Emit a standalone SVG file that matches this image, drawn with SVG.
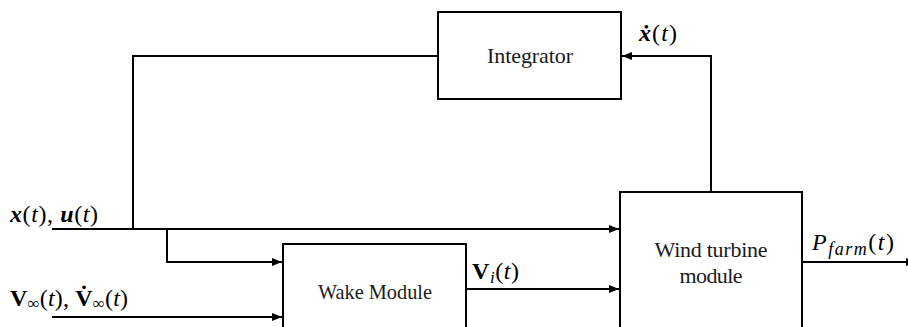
<svg xmlns="http://www.w3.org/2000/svg" width="908" height="327" viewBox="0 0 908 327">
  <style>
    .box { fill: #ffffff; stroke: #000000; stroke-width: 2; }
    .wire { fill: none; stroke: #000000; stroke-width: 2; }
    .lbl { font-family: "Liberation Serif", "DejaVu Serif", serif; font-size: 22px; fill: #1a1a1a; }
    .math { font-family: "Liberation Serif", "DejaVu Serif", serif; font-size: 24px; fill: #000000; }
    .bi { font-weight: bold; font-style: italic; }
    .b { font-weight: bold; }
    .i { font-style: italic; }
  </style>
  <defs>
    <marker id="arrow" markerWidth="10" markerHeight="8" refX="10" refY="4" orient="auto" markerUnits="userSpaceOnUse">
      <path d="M0,0 L10,4 L0,8 Z" fill="#000000"/>
    </marker>
  </defs>

  <rect width="908" height="327" fill="#ffffff"/>

  <!-- connectors -->
  <g id="connectors">
    <!-- feedback: integrator output back to the state input line -->
    <path class="wire" d="M438,56 H133 V229"/>
    <!-- x(t), u(t) to wind turbine module -->
    <path class="wire" d="M52,229 H619" marker-end="url(#arrow)"/>
    <!-- branch to wake module -->
    <path class="wire" d="M167,229 V262 H282" marker-end="url(#arrow)"/>
    <!-- free stream input to wake module -->
    <path class="wire" d="M52,317 H282" marker-end="url(#arrow)"/>
    <!-- wake module to wind turbine module -->
    <path class="wire" d="M466,289 H619" marker-end="url(#arrow)"/>
    <!-- state derivative to integrator -->
    <path class="wire" d="M711,192 V56 H622" marker-end="url(#arrow)"/>
    <!-- farm power output -->
    <path class="wire" d="M802,262 H916" marker-end="url(#arrow)"/>
  </g>

  <!-- nodes -->
  <g id="integrator">
    <rect class="box" x="438" y="12" width="183" height="87"/>
    <text class="lbl" x="530" y="63" text-anchor="middle" textLength="86">Integrator</text>
  </g>

  <g id="wake-module">
    <rect class="box" x="283" y="244" width="183" height="100"/>
    <text class="lbl" x="375" y="299" text-anchor="middle" textLength="114" lengthAdjust="spacingAndGlyphs">Wake Module</text>
  </g>

  <g id="wind-turbine-module">
    <rect class="box" x="620" y="192" width="182" height="160"/>
    <text class="lbl" x="711" y="257" text-anchor="middle" textLength="113">Wind turbine</text>
    <text class="lbl" x="711" y="283" text-anchor="middle" textLength="63">module</text>
  </g>

  <!-- signal labels -->
  <g id="labels">
    <text class="math" x="10" y="222" textLength="88"><tspan class="bi">x</tspan>(<tspan class="i">t</tspan>), <tspan class="bi">u</tspan>(<tspan class="i">t</tspan>)</text>
    <text class="math" x="10" y="306" textLength="118"><tspan class="b">V</tspan><tspan font-size="17" dy="3">∞</tspan><tspan dy="-3">(</tspan><tspan class="i">t</tspan>), <tspan class="b">V̇</tspan><tspan font-size="17" dy="3">∞</tspan><tspan dy="-3">(</tspan><tspan class="i">t</tspan>)</text>
    <text class="math" x="472" y="279" textLength="47"><tspan class="b">V</tspan><tspan class="i" font-size="17" dy="4">i</tspan><tspan dy="-4">(</tspan><tspan class="i">t</tspan>)</text>
    <text class="math" x="639" y="41" textLength="38"><tspan class="bi">ẋ</tspan>(<tspan class="i">t</tspan>)</text>
    <text class="math" x="812" y="250" textLength="82"><tspan class="i">P</tspan><tspan class="i" font-size="18" dy="5">farm</tspan><tspan dy="-5">(</tspan><tspan class="i">t</tspan>)</text>
  </g>
</svg>
